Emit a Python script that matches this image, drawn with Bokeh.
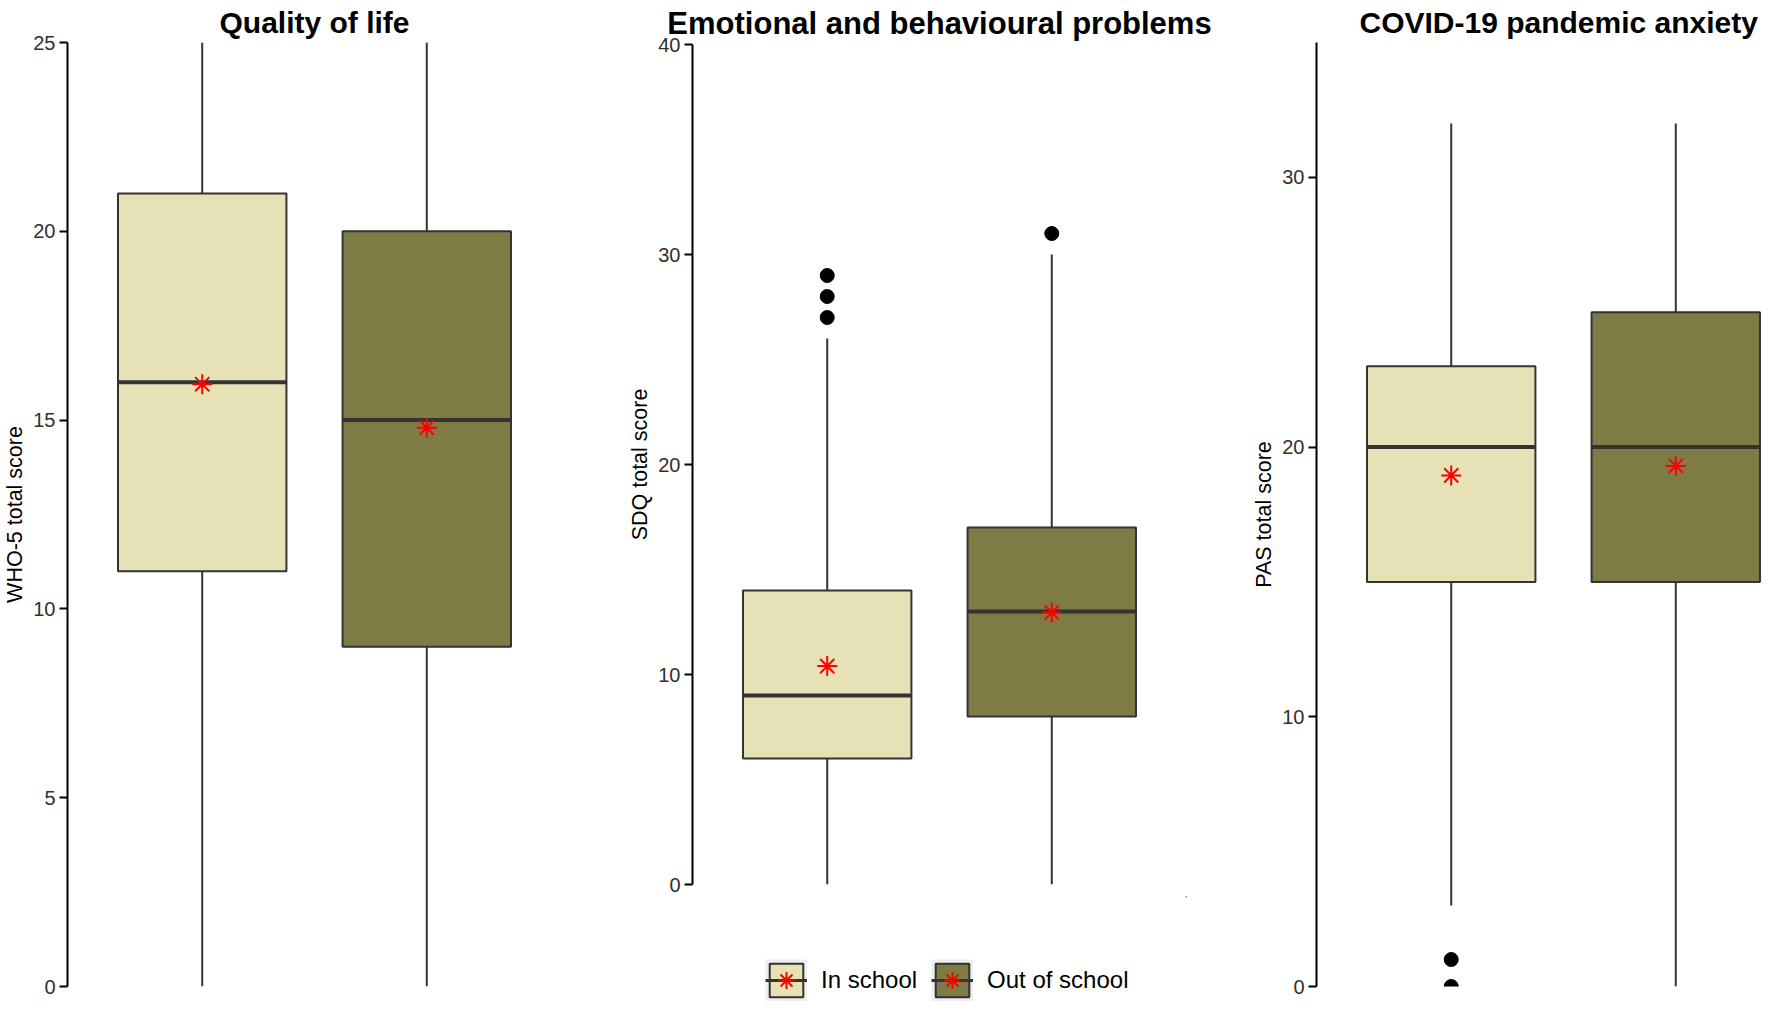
from bokeh.plotting import figure
from bokeh.layouts import row, column
from bokeh.models import Range1d, FixedTicker, Legend, LegendItem, ColumnDataSource
from bokeh.transform import dodge
from bokeh.embed import file_html
from bokeh.resources import INLINE

# ---------------- data ----------------
groups = ["In school", "Out of school"]
fills = ["#E6E2B5", "#7F7B45"]

qol_min = [0, 0]
qol_q1 = [11, 9]
qol_median = [16, 15]
qol_q3 = [21, 20]
qol_max = [25, 25]
qol_mean = [15.95, 14.8]
qol_outliers = [[], []]
qol_ticks = [0, 5, 10, 15, 20, 25]

sdq_min = [0, 0]
sdq_q1 = [6, 8]
sdq_median = [9, 13]
sdq_q3 = [14, 17]
sdq_max = [26, 30]
sdq_mean = [10.4, 12.95]
sdq_outliers = [[27, 28, 29], [31]]
sdq_ticks = [0, 10, 20, 30, 40]

pas_min = [3, 0]
pas_q1 = [15, 15]
pas_median = [20, 20]
pas_q3 = [23, 25]
pas_max = [32, 32]
pas_mean = [18.95, 19.3]
pas_outliers = [[1, 0], []]
pas_ticks = [0, 10, 20, 30]

FONT = "Liberation Sans"
DARK = "#333333"
BOX_W = 0.75


def panel(title, ylabel, y_end, ticks, mn, q1, med, q3, mx, mean, outl,
          frame_w, frame_h, bl, br, bt, bb, x_end=2.6, title_size="30px",
          title_align="center", title_offset=0):
    p = figure(frame_width=frame_w, frame_height=frame_h,
               x_range=Range1d(0.4, x_end), y_range=Range1d(0, y_end),
               output_backend="svg", toolbar_location=None,
               min_border_left=bl, min_border_right=br,
               min_border_top=bt, min_border_bottom=bb,
               background_fill_color="white", border_fill_color="white")
    p.title.text = title
    p.title.text_font = FONT
    p.title.text_font_size = title_size
    p.title.text_font_style = "bold"
    p.title.text_color = "black"
    p.title.align = title_align
    p.title.offset = title_offset
    p.title.standoff = 7
    p.outline_line_color = None
    p.xgrid.visible = False
    p.ygrid.visible = False
    p.xaxis.visible = False

    ax = p.yaxis[0]
    ax.ticker = FixedTicker(ticks=ticks)
    ax.axis_line_color = "black"
    ax.axis_line_width = 2
    ax.major_tick_line_color = "black"
    ax.major_tick_line_width = 2
    ax.major_tick_out = 8
    ax.major_tick_in = 0
    ax.minor_tick_out = 0
    ax.minor_tick_in = 0
    ax.major_label_text_font = FONT
    ax.major_label_text_font_size = "20px"
    ax.major_label_text_color = "#303030"
    ax.major_label_standoff = 4
    ax.axis_label = ylabel
    ax.axis_label_text_font = FONT
    ax.axis_label_text_font_size = "21.5px"
    ax.axis_label_text_font_style = "normal"
    ax.axis_label_text_color = "black"
    ax.axis_label_standoff = 3

    xs = [i + 1 for i in range(len(groups))]
    src = ColumnDataSource(dict(x=xs, mn=mn, q1=q1, med=med, q3=q3, mx=mx,
                                mean=mean, fill=fills, group=groups))
    p.segment(x0="x", y0="q3", x1="x", y1="mx", source=src,
              line_color=DARK, line_width=2)
    p.segment(x0="x", y0="q1", x1="x", y1="mn", source=src,
              line_color=DARK, line_width=2)
    p.vbar(x="x", width=BOX_W, bottom="q1", top="q3", source=src,
           fill_color="fill", line_color=DARK, line_width=2)
    p.segment(x0=dodge("x", -BOX_W / 2), x1=dodge("x", BOX_W / 2),
              y0="med", y1="med", source=src, line_color=DARK, line_width=4)
    ox = [xs[i] for i, lst in enumerate(outl) for _ in lst]
    oy = [v for lst in outl for v in lst]
    if ox:
        p.scatter(ox, oy, size=14, fill_color="black", line_color="black")
    p.scatter(x="x", y="mean", source=src, marker="asterisk", size=20,
              line_color="red", line_width=2)
    return p


UNIT = 494 / 2.2
p1 = panel("Quality of life", "WHO-5 total score", 25, qol_ticks,
           qol_min, qol_q1, qol_median, qol_q3, qol_max, qol_mean, qol_outliers,
           494, 944, 58, 40, 37, 15)
p2 = panel("Emotional and behavioural problems", "SDQ total score", 40, sdq_ticks,
           sdq_min, sdq_q1, sdq_median, sdq_q3, sdq_max, sdq_mean, sdq_outliers,
           494, 840, 91, 40, 38, 12, title_size="31px")
p3 = panel("COVID-19 pandemic anxiety", "PAS total score", 35, pas_ticks,
           pas_min, pas_q1, pas_median, pas_q3, pas_max, pas_mean, pas_outliers,
           447, 944, 90, 0, 37, 15, x_end=0.4 + 447 / UNIT, title_size="30px",
           title_align="left", title_offset=43)

# ---------------- legend (its own strip under panel 2) ----------------
# The key glyphs reuse panel-2 statistics; the strip's ranges keep them out of view,
# so only their legend swatches are drawn.
pl = figure(width=625, height=105, x_range=Range1d(-2, -1), y_range=Range1d(-2, -1),
            x_axis_location=None, y_axis_location=None,
            output_backend="svg", toolbar_location=None,
            min_border_left=91, min_border_right=40,
            min_border_top=0, min_border_bottom=0,
            background_fill_color="white", border_fill_color="white")
pl.outline_line_color = None
pl.xgrid.visible = False
pl.ygrid.visible = False

items = []
for i, g in enumerate(groups):
    gx = [i + 1]
    r_bg = pl.segment(x0=gx, y0=[sdq_q1[i]], x1=gx, y1=[sdq_q3[i]],
                      line_color="#EFEFEF", line_width=42, line_cap="butt")
    r_box = pl.vbar(x=gx, top=[sdq_q3[i]], bottom=[sdq_q1[i]], width=BOX_W,
                    fill_color=fills[i], line_color=DARK, line_width=2)
    r_med = pl.segment(x0=gx, y0=[sdq_median[i]], x1=gx, y1=[sdq_median[i]],
                       line_color=DARK, line_width=3)
    r_mean = pl.scatter(x=gx, y=[sdq_mean[i]], marker="asterisk", size=20,
                        line_color="red", line_width=2)
    items.append(LegendItem(label=g, renderers=[r_bg, r_box, r_med, r_mean]))

legend = Legend(items=items, orientation="horizontal", location=(73, 0),
                padding=0, margin=0, spacing=14, label_standoff=14,
                glyph_width=42, glyph_height=42, label_height=42,
                label_text_font=FONT, label_text_font_size="24px",
                label_text_color="black",
                background_fill_alpha=0, border_line_alpha=0)
pl.add_layout(legend, "center")

layout = row(p1, column(p2, pl), p3)
open("out.html", "w").write(file_html(layout, INLINE))
